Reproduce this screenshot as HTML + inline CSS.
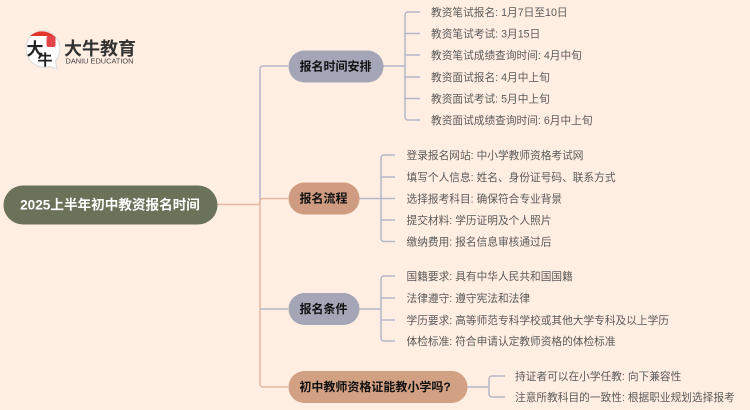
<!DOCTYPE html>
<html lang="zh">
<head>
<meta charset="utf-8">
<style>
html,body{margin:0;padding:0;width:750px;height:410px;overflow:hidden;background:#ffeee1}
svg{display:block}
text{font-family:"Liberation Sans","Noto Sans CJK SC",sans-serif}
.l{font-size:10.700px;fill:#5a5a5a}
.b{font-size:12px;font-weight:700;fill:#111;text-anchor:middle}
.p{fill:none;stroke:#b4b6cc;stroke-width:1.500}
.o{fill:none;stroke:#e6b9a0;stroke-width:1.500}
</style>
</head>
<body>
<svg width="750" height="410" viewBox="0 0 750 410" xmlns="http://www.w3.org/2000/svg">
<rect width="750" height="410" fill="#ffeee1"/>

<!-- logo -->
<path d="M42 30.500a18.500 18.500 0 0 1 18 18.500c0 5-2 9-4.500 12l1.500 8-7-2.500a18.500 18.500 0 1 1-8-36z" fill="#fff" stroke="#d8d8d8" stroke-width="1"/>
<path d="M30 36a18 18 0 0 1 24 0z" fill="#e3342b"/>
<rect x="46.500" y="36" width="9" height="11" rx="2" fill="#e3454a"/>
<text x="26.500" y="55" font-size="17" font-weight="700" fill="#222">大</text>
<text x="37.500" y="65" font-size="15" font-weight="700" fill="#222">牛</text>
<text x="64" y="55" font-size="18" font-weight="700" fill="#333" textLength="72">大牛教育</text>
<text x="65.500" y="63.500" font-size="7.500" fill="#444" textLength="68" lengthAdjust="spacingAndGlyphs">DANIU EDUCATION</text>

<!-- trunk -->
<path class="p" d="M288 66H263a3 3 0 0 0-3 3V204"/>
<path class="o" d="M217 204.500H260"/>
<path class="o" d="M288 198.500H263a3 3 0 0 0-3 3V384a3 3 0 0 0 3 3H288"/>
<path class="p" d="M260 309H288"/>

<!-- branch 1 -->
<path class="p" d="M383 66H405M420 12H408a3 3 0 0 0-3 3V117a3 3 0 0 0 3 3H420M405 33.500H420M405 55H420M405 77H420M405 98.500H420"/>
<!-- branch 2 -->
<path class="p" d="M359 198.500H381M395 155H384a3 3 0 0 0-3 3V238.500a3 3 0 0 0 3 3H395M381 177H395M381 198.500H395M381 220H395"/>
<!-- branch 3 -->
<path class="p" d="M359 309H381M395 276H384a3 3 0 0 0-3 3V338a3 3 0 0 0 3 3H395M381 298H395M381 320H395"/>
<!-- branch 4 -->
<path class="p" d="M467 387H489M505 376H492a3 3 0 0 0-3 3V394a3 3 0 0 0 3 3H505"/>

<!-- nodes -->
<rect x="3.500" y="185.500" width="214" height="39" rx="19.500" fill="#6b725a"/>
<text x="110" y="209.500" font-size="13.600" font-weight="700" fill="#fff" text-anchor="middle">2025上半年初中教资报名时间</text>

<rect x="288.500" y="50.500" width="95" height="32" rx="16" fill="#a5a5b8"/>
<text class="b" x="335.500" y="70.500">报名时间安排</text>

<rect x="288.500" y="182.500" width="71" height="32" rx="16" fill="#cf9c81"/>
<text class="b" x="323.500" y="202.500">报名流程</text>

<rect x="288.500" y="293" width="71" height="32" rx="16" fill="#a5a5b8"/>
<text class="b" x="323.500" y="313">报名条件</text>

<rect x="288.500" y="371" width="179" height="32" rx="16" fill="#d2a083"/>
<text class="b" x="375" y="391">初中教师资格证能教小学吗?</text>

<!-- leaves -->
<text class="l" x="431" y="16">教资笔试报名: 1月7日至10日</text>
<text class="l" x="431" y="37.500">教资笔试考试: 3月15日</text>
<text class="l" x="431" y="59">教资笔试成绩查询时间: 4月中旬</text>
<text class="l" x="431" y="81">教资面试报名: 4月中上旬</text>
<text class="l" x="431" y="102.500">教资面试考试: 5月中上旬</text>
<text class="l" x="431" y="124">教资面试成绩查询时间: 6月中上旬</text>

<text class="l" x="406.500" y="159">登录报名网站: 中小学教师资格考试网</text>
<text class="l" x="406.500" y="181">填写个人信息: 姓名、身份证号码、联系方式</text>
<text class="l" x="406.500" y="202.500">选择报考科目: 确保符合专业背景</text>
<text class="l" x="406.500" y="224">提交材料: 学历证明及个人照片</text>
<text class="l" x="406.500" y="245.500">缴纳费用: 报名信息审核通过后</text>

<text class="l" x="406.500" y="280">国籍要求: 具有中华人民共和国国籍</text>
<text class="l" x="406.500" y="302">法律遵守: 遵守宪法和法律</text>
<text class="l" x="406.500" y="324">学历要求: 高等师范专科学校或其他大学专科及以上学历</text>
<text class="l" x="406.500" y="345">体检标准: 符合申请认定教师资格的体检标准</text>

<text class="l" x="515" y="380">持证者可以在小学任教: 向下兼容性</text>
<text class="l" x="515" y="401">注意所教科目的一致性: 根据职业规划选择报考</text>
</svg>
</body>
</html>
